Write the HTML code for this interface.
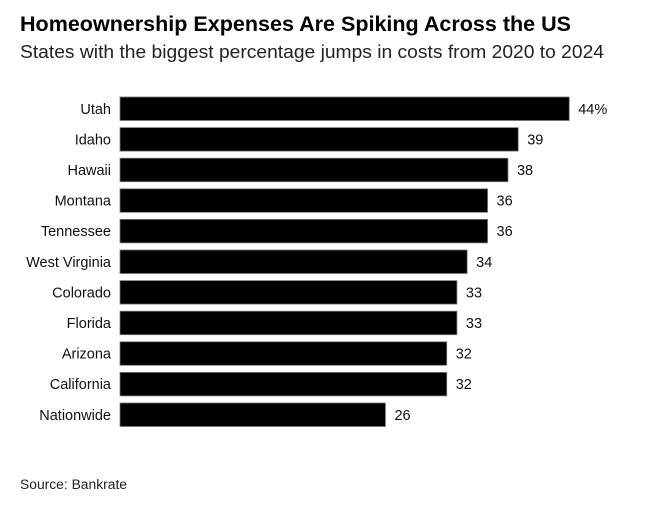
<!DOCTYPE html>
<html><head><meta charset="utf-8"><style>
body{margin:0;background:#fff;width:651px;height:500px;overflow:hidden;font-family:"Liberation Sans",sans-serif;}
</style></head><body>
<svg width="651" height="500">
<text x="20" y="31" font-size="21" font-weight="bold" fill="#000" textLength="551" lengthAdjust="spacingAndGlyphs">Homeownership Expenses Are Spiking Across the US</text>
<text x="20" y="58" font-size="18" fill="#222" textLength="584" lengthAdjust="spacingAndGlyphs">States with the biggest percentage jumps in costs from 2020 to 2024</text>
<g id="bars"></g>
<text x="20" y="489" font-size="13.5" fill="#222" textLength="107" lengthAdjust="spacingAndGlyphs">Source: Bankrate</text>
</svg>
<script>
const categories=["Utah","Idaho","Hawaii","Montana","Tennessee","West Virginia","Colorado","Florida","Arizona","California","Nationwide"];
const values=[44,39,38,36,36,34,33,33,32,32,26];
const valueLabels=["44%","39","38","36","36","34","33","33","32","32","26"];
const x0=120,unit=10.21,top0=97,step=30.6,bh=23.5;
const xs=v=>x0+v*unit;
const ys=i=>top0+i*step;
const g=document.getElementById('bars');
const NS="http://www.w3.org/2000/svg";
categories.forEach((c,i)=>{
  const r=document.createElementNS(NS,'rect');
  r.setAttribute('x',x0);r.setAttribute('y',ys(i));
  r.setAttribute('width',xs(values[i])-x0);r.setAttribute('height',bh);
  r.setAttribute('fill','#000');r.setAttribute('stroke','#777');r.setAttribute('stroke-width','0.8');
  
  
  g.appendChild(r);
  const l=document.createElementNS(NS,'text');
  l.setAttribute('x',111);l.setAttribute('y',ys(i)+bh/2+5);
  l.setAttribute('text-anchor','end');l.setAttribute('font-size','14.5');l.setAttribute('fill','#111');
  l.textContent=c;
  
  
  g.appendChild(l);
  const v=document.createElementNS(NS,'text');
  v.setAttribute('x',xs(values[i])+9);v.setAttribute('y',ys(i)+bh/2+5);
  v.setAttribute('font-size','14.5');v.setAttribute('fill','#111');
  v.textContent=valueLabels[i];
  
  
  g.appendChild(v);
});
</script>
</body></html>
